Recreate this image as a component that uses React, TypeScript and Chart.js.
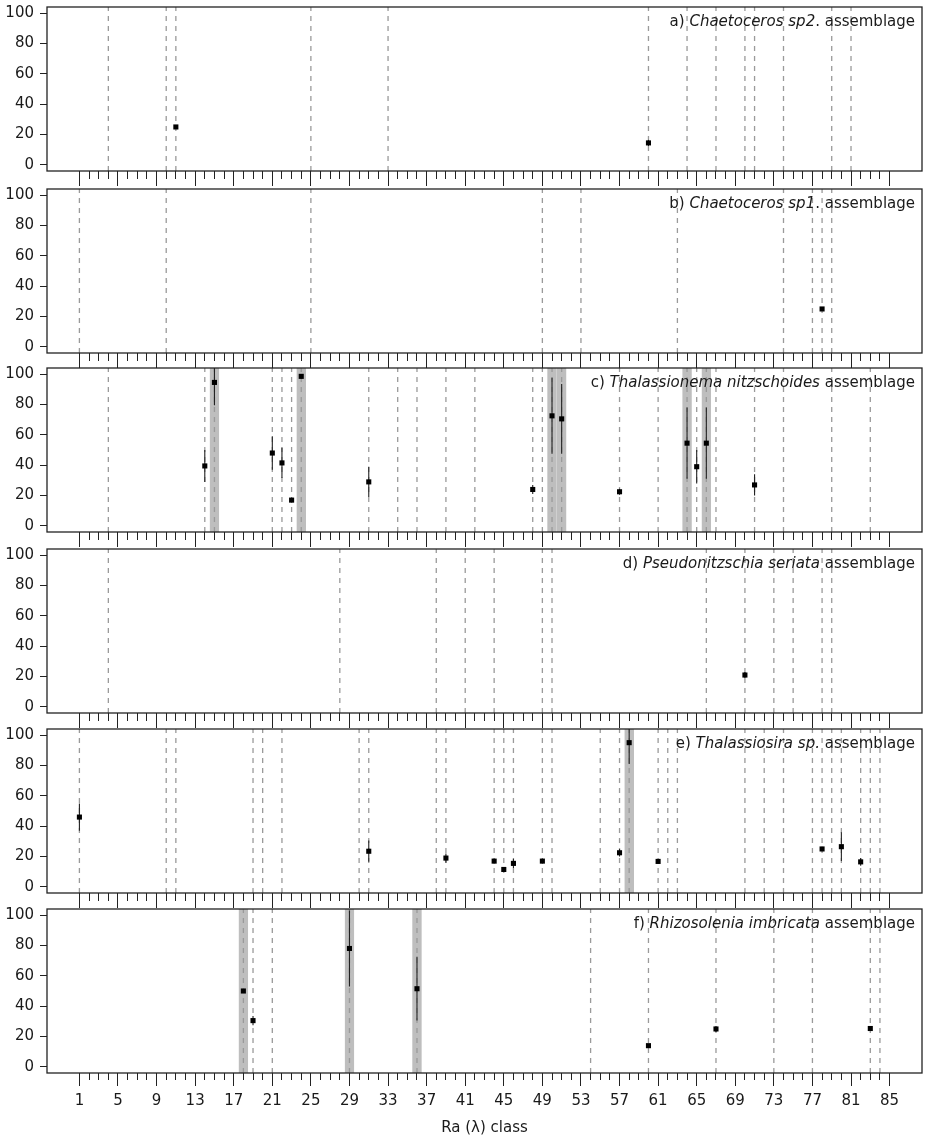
import React, { useEffect, useRef } from "react";
import { Chart, registerables } from "chart.js";

Chart.register(...registerables);
Chart.defaults.font.family = "'DejaVu Sans', 'Liberation Sans', sans-serif";

// ---- axes ----
const X_MIN = -2.36;
const X_MAX = 88.36;
const Y_MIN = -4;
const Y_MAX = 104;
const xMajorTicks = [1, 5, 9, 13, 17, 21, 25, 29, 33, 37, 41, 45, 49, 53, 57, 61, 65, 69, 73, 77, 81, 85];
const xMinorTicks = Array.from({ length: 85 }, (_, i) => i + 1);
const yTicks = [0, 20, 40, 60, 80, 100];
const xAxisTitle = "Ra (λ) class";

// ---- panel titles ----
const panelLetters = ["a) ", "b) ", "c) ", "d) ", "e) ", "f) "];
const panelSpecies = [
  "Chaetoceros sp2",
  "Chaetoceros sp1",
  "Thalassionema nitzschoides",
  "Pseudonitzschia seriata",
  "Thalassiosira sp.",
  "Rhizosolenia imbricata",
];
const panelSuffix = [". assemblage", ". assemblage", " assemblage", " assemblage", " assemblage", " assemblage"];

// ---- a) Chaetoceros sp2 ----
const dashedA = [4, 10, 11, 25, 33, 60, 64, 67, 70, 71, 74, 79, 81];
const bandsA: number[] = [];
const xA = [11, 60];
const yA = [25, 14.5];
const errA = [0, 2];

// ---- b) Chaetoceros sp1 ----
const dashedB = [1, 10, 25, 49, 53, 63, 74, 77, 78, 79];
const bandsB: number[] = [];
const xB = [78];
const yB = [25];
const errB = [0];

// ---- c) Thalassionema nitzschoides ----
const dashedC = [4, 14, 15, 21, 22, 23, 24, 31, 34, 36, 39, 42, 48, 49, 50, 51, 57, 61, 64, 65, 66, 67, 71, 74, 79, 83];
const bandsC = [15, 24, 50, 51, 64, 66];
const xC = [14, 15, 21, 22, 23, 24, 31, 48, 50, 51, 57, 64, 65, 66, 71];
const yC = [39.5, 94.5, 48, 41.5, 17, 98.5, 29, 24, 72.5, 70.5, 22.5, 54.5, 39, 54.5, 27];
const errC = [10.5, 15, 11, 10, 1.5, 1.5, 10, 3, 25, 23, 2, 23.5, 11, 23.5, 7];

// ---- d) Pseudonitzschia seriata ----
const dashedD = [4, 28, 38, 41, 44, 49, 50, 66, 70, 73, 75, 78, 79];
const bandsD: number[] = [];
const xD = [70];
const yD = [21];
const errD = [2];

// ---- e) Thalassiosira sp. ----
const dashedE = [1, 10, 11, 19, 20, 22, 30, 31, 38, 39, 44, 45, 46, 49, 50, 55, 57, 58, 61, 62, 63, 70, 72, 74, 77, 78, 79, 80, 82, 83, 84];
const bandsE = [58];
const xE = [1, 31, 39, 44, 45, 46, 49, 57, 58, 61, 78, 80, 82];
const yE = [46, 23.5, 19, 17, 11.5, 15.5, 17, 22.5, 95, 16.8, 25, 26.5, 16.5];
const errE = [9, 7, 3, 1.5, 1.5, 3, 1.5, 2.5, 14, 1.5, 1.5, 9.5, 2.5];

// ---- f) Rhizosolenia imbricata ----
const dashedF = [18, 19, 21, 29, 36, 54, 60, 67, 73, 77, 83, 84];
const bandsF = [18, 29, 36];
const xF = [18, 19, 29, 36, 60, 67, 83];
const yF = [50, 30.5, 78, 51.5, 14, 25, 25.3];
const errF = [1, 3, 25, 21, 1, 2, 1];

const panels = [
  { dashed: dashedA, bands: bandsA, xs: xA, ys: yA, errs: errA },
  { dashed: dashedB, bands: bandsB, xs: xB, ys: yB, errs: errB },
  { dashed: dashedC, bands: bandsC, xs: xC, ys: yC, errs: errC },
  { dashed: dashedD, bands: bandsD, xs: xD, ys: yD, errs: errD },
  { dashed: dashedE, bands: bandsE, xs: xE, ys: yE, errs: errE },
  { dashed: dashedF, bands: bandsF, xs: xF, ys: yF, errs: errF },
];

// ---- layout ----
const PAGE_W = 929;
const PAGE_H = 1140;
const PANEL_TOPS = [7, 189, 368, 549, 729, 909];
const PAD_TOP = 7;
const PLOT_H = 164;
const FONT_SIZE = 15;
const INK = "#1a1a1a";

const framePlugin = {
  id: "frame",
  afterDraw(chart: any, _args: any, opts: any) {
    const { ctx, chartArea: a } = chart;
    ctx.save();
    ctx.strokeStyle = "#222";
    ctx.lineWidth = 1.3;
    ctx.strokeRect(a.left, a.top, a.right - a.left, a.bottom - a.top);
    const fam = "'DejaVu Sans', sans-serif";
    const parts: [string, boolean][] = opts.parts || [];
    let total = 0;
    const widths = parts.map(([t, it]) => {
      ctx.font = `${it ? "italic " : ""}${FONT_SIZE}px ${fam}`;
      const w = ctx.measureText(t).width;
      total += w;
      return w;
    });
    let x = a.right - 7 - total;
    const y = a.top + 19;
    ctx.fillStyle = INK;
    ctx.textBaseline = "alphabetic";
    ctx.textAlign = "left";
    parts.forEach(([t, it], k) => {
      ctx.font = `${it ? "italic " : ""}${FONT_SIZE}px ${fam}`;
      ctx.fillText(t, x, y);
      x += widths[k];
    });
    ctx.restore();
  },
};

function buildDatasets(p: typeof panels[number]) {
  const ds: any[] = [];
  ds.push({
    type: "scatter",
    data: p.xs.map((x, k) => ({ x, y: p.ys[k] })),
    pointStyle: "rect",
    pointRadius: 3.6,
    backgroundColor: "#000",
    borderColor: "#000",
    borderWidth: 0,
    order: 0,
  });
  const errData: any[] = [];
  p.xs.forEach((x, k) => {
    errData.push({ x, y: p.ys[k] - p.errs[k] }, { x, y: p.ys[k] + p.errs[k] }, { x, y: null });
  });
  ds.push({
    type: "line",
    data: errData,
    borderColor: "#222",
    borderWidth: 1.1,
    pointRadius: 0,
    spanGaps: false,
    fill: false,
    order: 1,
  });
  const dashData: any[] = [];
  p.dashed.forEach((v) => {
    dashData.push({ x: v, y: Y_MIN }, { x: v, y: Y_MAX }, { x: v, y: null });
  });
  ds.push({
    type: "line",
    data: dashData,
    borderColor: "#9a9a9a",
    borderWidth: 1.3,
    borderDash: [5, 5],
    pointRadius: 0,
    spanGaps: false,
    fill: false,
    order: 2,
  });
  p.bands.forEach((v) => {
    ds.push({
      type: "line",
      data: [
        { x: v - 0.5, y: Y_MAX },
        { x: v + 0.5, y: Y_MAX },
      ],
      borderWidth: 0,
      borderColor: "rgba(0,0,0,0)",
      backgroundColor: "#bebebe",
      fill: { value: Y_MIN },
      pointRadius: 0,
      order: 3,
    });
  });
  return ds;
}

function Panel({ idx }: { idx: number }) {
  const ref = useRef<HTMLCanvasElement>(null);
  const isLast = idx === panels.length - 1;
  const top = PANEL_TOPS[idx] - PAD_TOP;
  const height = isLast ? PAGE_H - top : PAD_TOP + PLOT_H + 16;
  const axisH = height - PAD_TOP - PLOT_H;

  useEffect(() => {
    const canvas = ref.current;
    if (!canvas) return;
    const chart = new Chart(canvas, {
      type: "scatter",
      data: { datasets: buildDatasets(panels[idx]) },
      options: {
        animation: false,
        responsive: false,
        maintainAspectRatio: false,
        events: [],
        layout: { padding: { top: PAD_TOP, right: 7, bottom: 0, left: 0 } },
        plugins: {
          legend: { display: false },
          tooltip: { enabled: false },
          frame: {
            parts: [
              [panelLetters[idx], false],
              [panelSpecies[idx], true],
              [panelSuffix[idx], false],
            ],
          },
        } as any,
        scales: {
          x: {
            type: "linear",
            position: "bottom",
            min: X_MIN,
            max: X_MAX,
            weight: 0,
            afterBuildTicks: (s: any) => {
              s.ticks = xMinorTicks.map((v) => ({ value: v }));
            },
            afterFit: (s: any) => {
              s.height = 0;
              s.paddingLeft = 0;
              s.paddingRight = 0;
            },
            grid: {
              drawOnChartArea: false,
              drawTicks: true,
              tickLength: isLast ? 7 : 8,
              tickColor: "#222",
              tickWidth: 1,
            },
            border: { display: false },
            ticks: { display: false },
          },
          x2: {
            type: "linear",
            position: "bottom",
            min: X_MIN,
            max: X_MAX,
            weight: 1,
            afterBuildTicks: (s: any) => {
              s.ticks = xMajorTicks.map((v) => ({ value: v }));
            },
            afterFit: (s: any) => {
              s.height = axisH;
              s.paddingLeft = 0;
              s.paddingRight = 0;
            },
            grid: {
              drawOnChartArea: false,
              drawTicks: true,
              tickLength: isLast ? 13 : 15,
              tickColor: "#222",
              tickWidth: 1,
            },
            border: { display: false },
            ticks: {
              display: isLast,
              autoSkip: false,
              maxRotation: 0,
              padding: 6,
              font: { size: FONT_SIZE },
              color: INK,
              callback: (v: any) => String(v),
            },
            title: {
              display: isLast,
              text: xAxisTitle,
              font: { size: FONT_SIZE },
              color: INK,
              padding: { top: 0, bottom: 3 },
            },
          },
          y: {
            type: "linear",
            position: "left",
            min: Y_MIN,
            max: Y_MAX,
            afterBuildTicks: (s: any) => {
              s.ticks = yTicks.map((v) => ({ value: v }));
            },
            afterFit: (s: any) => {
              s.width = 47;
              s.paddingTop = 0;
              s.paddingBottom = 0;
            },
            grid: {
              drawOnChartArea: false,
              drawTicks: true,
              tickLength: 7,
              tickColor: "#222",
              tickWidth: 1,
            },
            border: { display: false },
            ticks: {
              padding: 6,
              font: { size: FONT_SIZE },
              color: INK,
              callback: (v: any) => String(v),
            },
          },
        } as any,
      },
      plugins: [framePlugin],
    });
    return () => chart.destroy();
  }, [idx]);

  return (
    <canvas
      ref={ref}
      width={PAGE_W}
      height={height}
      style={{ position: "absolute", left: 0, top, width: PAGE_W, height }}
    />
  );
}

export default function App() {
  return (
    <div
      style={{
        position: "absolute",
        left: 0,
        top: 0,
        width: PAGE_W,
        height: PAGE_H,
        background: "#fff",
        overflow: "hidden",
      }}
    >
      {panels.map((_, i) => (
        <Panel key={i} idx={i} />
      ))}
    </div>
  );
}
